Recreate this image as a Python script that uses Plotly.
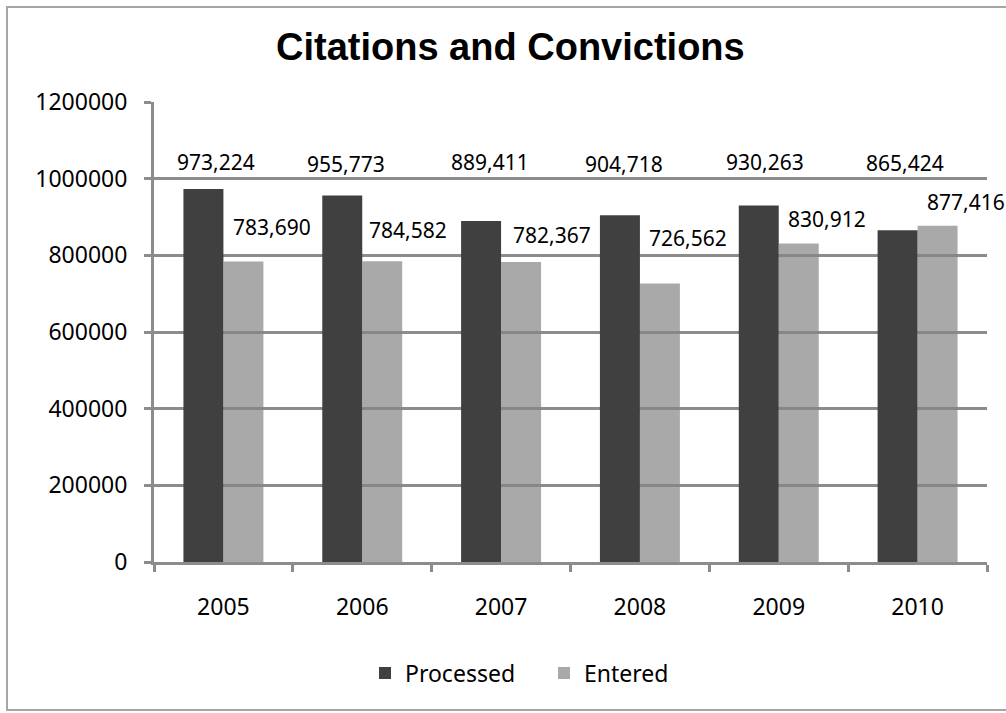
import plotly.graph_objects as go

# ---- data ----
years = ["2005", "2006", "2007", "2008", "2009", "2010"]
processed = [973224, 955773, 889411, 904718, 930263, 865424]
entered = [783690, 784582, 782367, 726562, 830912, 877416]
y_ticks = [0, 200000, 400000, 600000, 800000, 1000000, 1200000]

# ---- label placement (layout only) ----
proc_label_y = [1044000, 1039000, 1044000, 1039000, 1044000, 1042000]
proc_label_dx = [-7, -16, -11, -16, -14, -13]
ent_label_y = [875000, 867000, 852000, 844000, 896000, 938000]
ent_label_dx = [49, 46, 51, 48, 48, 48]

W, H = 1006, 713
# plot-area edges in page pixels
L, R, T, B = 154, 987, 102, 562
pw, ph = R - L, B - T

fig = go.Figure()
fig.add_trace(go.Bar(x=years, y=processed, name="Processed",
                     marker=dict(color="#404040", line=dict(width=0))))
fig.add_trace(go.Bar(x=years, y=entered, name="Entered",
                     marker=dict(color="rgba(133,133,133,0.7)", line=dict(width=0))))

anns = []
for i, yr in enumerate(years):
    anns.append(dict(x=i, y=proc_label_y[i], xref="x", yref="y",
                     text=f"{processed[i]:,}", showarrow=False, xshift=proc_label_dx[i],
                     font=dict(family="Noto Sans", size=21, color="#000000")))
    anns.append(dict(x=i, y=ent_label_y[i], xref="x", yref="y",
                     text=f"{entered[i]:,}", showarrow=False, xshift=ent_label_dx[i],
                     font=dict(family="Noto Sans", size=21, color="#000000")))

# title
anns.append(dict(x=(510 - L) / pw, y=(B - 47) / ph, xref="paper", yref="paper",
                 text="<b>Citations and Convictions</b>", showarrow=False,
                 xanchor="center", yanchor="middle",
                 font=dict(family="Liberation Sans", size=38, color="#000000")))

# chart border
shapes = [dict(type="rect", xref="paper", yref="paper",
               x0=(7 - L) / pw, x1=(1030 - L) / pw,
               y0=(B - 710) / ph, y1=(B - 7) / ph,
               line=dict(color="#a6a6a6", width=2), fillcolor="rgba(0,0,0,0)",
               layer="below")]

fig.update_layout(
    width=W, height=H,
    margin=dict(l=L, r=W - R, t=T, b=H - B, pad=0),
    paper_bgcolor="white", plot_bgcolor="white",
    barmode="group", bargap=0.424, bargroupgap=0,
    showlegend=True,
    legend=dict(orientation="h", x=(544 - L) / pw, y=(B - 673) / ph,
                xanchor="center", yanchor="middle",
                font=dict(family="Noto Sans", size=23, color="#000000"),
                itemwidth=30, entrywidth=134, traceorder="normal"),
    annotations=anns,
    shapes=shapes,
)
fig.update_xaxes(
    type="category", range=[-0.5, 5.5], showgrid=False, showline=True,
    linecolor="#8c8c8c", linewidth=3,
    ticks="outside", tickson="boundaries", ticklen=7, tickwidth=3, tickcolor="#8c8c8c",
    ticklabelstandoff=22, tickangle=0,
    tickfont=dict(family="Noto Sans", size=23, color="#000000"),
)
fig.update_yaxes(
    range=[0, 1200000], tickvals=y_ticks, tickformat="d",
    showgrid=True, gridcolor="#8c8c8c", gridwidth=3,
    zeroline=False, showline=True, linecolor="#8c8c8c", linewidth=3,
    ticks="outside", ticklen=7, tickwidth=3, tickcolor="#8c8c8c",
    ticklabelstandoff=12,
    tickfont=dict(family="Noto Sans", size=23, color="#000000"),
)

fig.write_html("out.html", config={"displayModeBar": False},
               post_script="document.body.style.margin='0';document.body.style.overflow='hidden';")
